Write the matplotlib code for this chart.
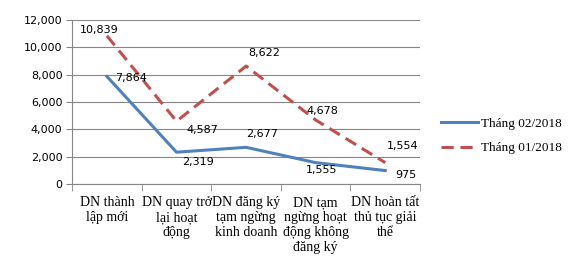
import matplotlib.pyplot as plt
from matplotlib.ticker import FuncFormatter, FixedLocator

categories = [
    "DN thành\nlập mới",
    "DN quay trở\nlại hoạt\nđộng",
    "DN đăng ký\ntạm ngừng\nkinh doanh",
    "DN tạm\nngừng hoạt\nđộng không\nđăng ký",
    "DN hoàn tất\nthủ tục giải\nthể",
]
thang_02 = [7864, 2319, 2677, 1555, 975]
thang_01 = [10839, 4587, 8622, 4678, 1554]

# label offsets in pixels (x, y)
off_02 = [(24, -2), (21, -10), (16, 13), (6, -7), (21, -4)]
off_01 = [(-8, 6), (26, -9), (18, 13), (7, 9), (17, 17)]

blue = "#4F81BD"
red = "#C0504D"
grid_col = "#868686"

fig = plt.figure(figsize=(5.77, 2.59), dpi=100)
ax = fig.add_axes([0.125, 0.29, 0.603, 0.633])

x = list(range(len(categories)))
l1, = ax.plot(x, thang_02, color=blue, lw=2.2, label="Tháng 02/2018", zorder=3)
l2, = ax.plot(x, thang_01, color=red, lw=2.2, ls=(0, (4, 2.2)), label="Tháng 01/2018", zorder=3)

for xs, vals, offs in [(x, thang_02, off_02), (x, thang_01, off_01)]:
    for xi, v, o in zip(xs, vals, offs):
        ax.annotate(f"{v:,}", (xi, v), xytext=o, textcoords="offset pixels",
                    ha="center", va="center", fontsize=8, family="DejaVu Sans")

ax.set_xlim(-0.5, len(categories) - 0.5)
ax.set_ylim(0, 12000)
ax.set_yticks(range(0, 12001, 2000))
ax.yaxis.set_major_formatter(FuncFormatter(lambda v, p: f"{int(v):,}"))
ax.grid(axis="y", color=grid_col, lw=0.8)
ax.set_axisbelow(True)

ax.set_xticks(x)
ax.set_xticklabels(categories, family="Liberation Serif", fontsize=10, linespacing=1.2)
ax.xaxis.set_minor_locator(FixedLocator([i - 0.5 for i in range(len(categories) + 1)]))
ax.tick_params(axis="x", which="major", length=0, pad=9)
ax.tick_params(axis="x", which="minor", length=5, color=grid_col)
ax.tick_params(axis="y", length=4, color=grid_col, labelsize=8, pad=3)

for s in ["top", "right"]:
    ax.spines[s].set_visible(False)
for s in ["left", "bottom"]:
    ax.spines[s].set_color(grid_col)

fig.legend(handles=[l1, l2], loc="center left", bbox_to_anchor=(0.743, 0.475),
           frameon=False, prop={"family": "Liberation Serif", "size": 9.5},
           handlelength=2.8, handletextpad=0.3, labelspacing=0.9)

fig.savefig("out.png", dpi=100)
